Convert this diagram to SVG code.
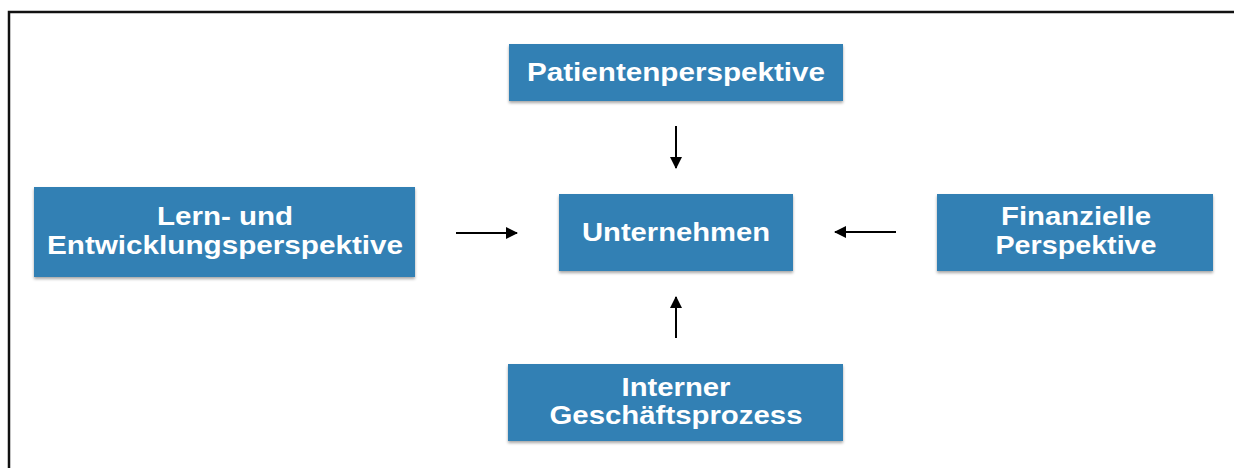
<svg xmlns="http://www.w3.org/2000/svg" width="1234" height="468" viewBox="0 0 1234 468">
<defs>
<style>
.box{fill:#3080b4;filter:url(#sh)}
.t{fill:#fff;font-family:"Liberation Sans",Arial,sans-serif;font-weight:bold;font-size:25px;text-anchor:middle}
.c{stroke:#000;stroke-width:2;fill:none;marker-end:url(#ah)}
</style>
<filter id="sh" x="-10%" y="-20%" width="120%" height="150%">
<feDropShadow dx="0" dy="2" stdDeviation="1.5" flood-color="#000" flood-opacity="0.35"/>
</filter>
<marker id="ah" markerWidth="12" markerHeight="12" refX="11" refY="6" orient="auto" markerUnits="userSpaceOnUse">
<path d="M0,0 L12,6 L0,12 Z" fill="#000"/>
</marker>
</defs>
<rect width="1234" height="468" fill="#fff"/>
<rect x="9" y="12" width="1240" height="470" fill="none" stroke="#111" stroke-width="2.5"/>
<g id="patient">
<rect class="box" x="509" y="44" width="334" height="57"/>
<text class="t" x="676" y="81" textLength="298" lengthAdjust="spacingAndGlyphs">Patientenperspektive</text>
</g>
<g id="lern">
<rect class="box" x="34" y="187" width="381" height="90"/>
<text class="t" x="225" y="225" textLength="136" lengthAdjust="spacingAndGlyphs">Lern- und</text>
<text class="t" x="225" y="254" textLength="356" lengthAdjust="spacingAndGlyphs">Entwicklungsperspektive</text>
</g>
<g id="unternehmen">
<rect class="box" x="559" y="194" width="234" height="77"/>
<text class="t" x="676" y="241" textLength="188" lengthAdjust="spacingAndGlyphs">Unternehmen</text>
</g>
<g id="finanz">
<rect class="box" x="937" y="194" width="276" height="77"/>
<text class="t" x="1076" y="225" textLength="150" lengthAdjust="spacingAndGlyphs">Finanzielle</text>
<text class="t" x="1076" y="254" textLength="161" lengthAdjust="spacingAndGlyphs">Perspektive</text>
</g>
<g id="intern">
<rect class="box" x="508" y="364" width="335" height="77"/>
<text class="t" x="676" y="396" textLength="109" lengthAdjust="spacingAndGlyphs">Interner</text>
<text class="t" x="676" y="424" textLength="253" lengthAdjust="spacingAndGlyphs">Geschäftsprozess</text>
</g>
<g id="connectors">
<line class="c" x1="676" y1="126" x2="676" y2="168"/>
<line class="c" x1="676" y1="338" x2="676" y2="297"/>
<line class="c" x1="456" y1="233" x2="517" y2="233"/>
<line class="c" x1="896" y1="232" x2="835" y2="232"/>
</g>
</svg>
